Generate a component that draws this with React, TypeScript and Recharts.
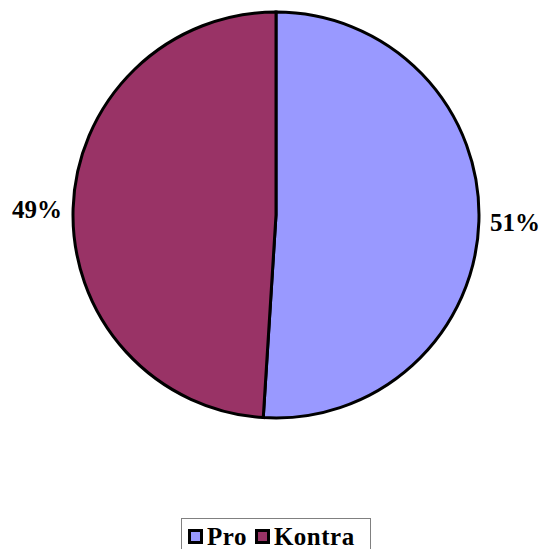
import React from "react";
import { PieChart, Pie, Cell, Legend } from "recharts";

const names = ["Pro", "Kontra"];
const values = [51, 49];
const colors = ["#9999FF", "#993366"];

const data = names.map((name, i) => ({ name, value: values[i] }));

const RAD = Math.PI / 180;
const serif = "Liberation Serif, Times New Roman, serif";

const renderLabel = (props: any) => {
  const { cx, cy, midAngle, outerRadius, value } = props;
  const r = outerRadius + 11;
  const cos = Math.cos(-midAngle * RAD);
  const x = cx + r * cos;
  const y = cy + r * Math.sin(-midAngle * RAD) + 1;
  return (
    <text
      x={x}
      y={y}
      textAnchor={cos >= 0 ? "start" : "end"}
      dominantBaseline="central"
      fill="#000"
      fontFamily={serif}
      fontWeight="bold"
      fontSize={25}
    >
      {value}%
    </text>
  );
};

const BoxLegend = () => (
  <div
    style={{
      display: "flex",
      alignItems: "center",
      gap: 8,
      width: 190,
      height: 31,
      boxSizing: "border-box",
      padding: "5px 6px 0 6px",
      border: "1px solid #808080",
      borderBottom: "none",
      background: "#fff",
      fontFamily: serif,
      fontWeight: "bold",
      fontSize: 25,
      lineHeight: "25px",
      letterSpacing: 0.5,
      color: "#000",
    }}
  >
    {names.map((n, i) => (
      <span key={n} style={{ display: "flex", alignItems: "center" }}>
        <span
          style={{
            width: 9,
            height: 9,
            border: "3px solid #000",
            background: colors[i],
            marginRight: 4,
          }}
        ></span>
        {n}
      </span>
    ))}
  </div>
);

export default function App() {
  return (
    <div style={{ position: "absolute", left: 0, top: 0, background: "#fff" }}>
      <PieChart
        width={540}
        height={549}
        margin={{ top: 0, right: 0, bottom: 0, left: 0 }}
      >
        <Pie
          data={data}
          dataKey="value"
          nameKey="name"
          cx={276}
          cy={215}
          outerRadius={203}
          startAngle={90}
          endAngle={-270}
          stroke="#000"
          strokeWidth={3}
          label={renderLabel}
          labelLine={false}
          isAnimationActive={false}
        >
          {data.map((d, i) => (
            <Cell key={d.name} fill={colors[i]} />
          ))}
        </Pie>
        <Legend
          content={<BoxLegend />}
          wrapperStyle={{ left: 181, top: 518, width: 190 }}
        />
      </PieChart>
    </div>
  );
}
